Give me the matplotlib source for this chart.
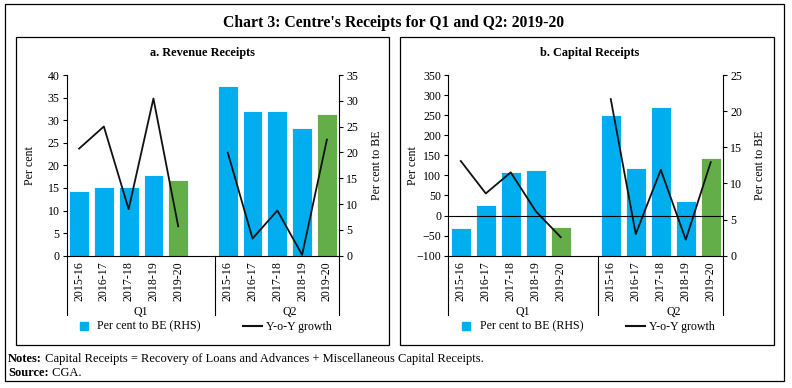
import matplotlib
matplotlib.use('Agg')
import matplotlib.pyplot as plt
import matplotlib.transforms as mtransforms
from matplotlib.patches import Rectangle
from matplotlib.lines import Line2D
import numpy as np

plt.rcParams['font.family'] = ['Liberation Serif', 'DejaVu Serif']

# データ
years = ['2015-16', '2016-17', '2017-18', '2018-19', '2019-20']
quarters = ['Q1', 'Q2']

# a. Revenue Receipts
rev_be_q1 = [12.5, 13.3, 13.3, 15.6, 14.7]
rev_be_q2 = [32.8, 28.1, 28.1, 24.7, 27.5]
rev_yoy_q1 = [23.7, 28.6, 10.3, 34.8, 6.5]
rev_yoy_q2 = [22.8, 3.8, 10.0, 0.2, 25.7]

# b. Capital Receipts
cap_be_q1 = [3.8, 7.0, 11.6, 11.8, 4.0]
cap_be_q2 = [19.4, 12.2, 20.6, 7.5, 13.5]
cap_yoy_q1 = [135.8, 55.0, 107.5, 10.8, -54.0]
cap_yoy_q2 = [290.0, -46.0, 114.0, -60.0, 133.0]

BLUE = '#00AEEF'
GREEN = '#64AE4A'
FS = 8.6


def draw_panel(ax, be_q1, be_q2, yoy_q1, yoy_q2, ylim_l, yticks_l, ylim_r, yticks_r,
               ylab_x_l, ylab_x_r):
    ax2 = ax.twinx()
    # 線を棒の上に表示
    ax.set_zorder(ax2.get_zorder() + 1)
    ax.patch.set_visible(False)

    pos_q1 = np.arange(len(years))
    pos_q2 = pos_q1 + len(years) + 1
    colors = [BLUE] * (len(years) - 1) + [GREEN]

    ax2.bar(pos_q1, be_q1, width=0.8, color=colors, edgecolor='white', linewidth=0.6)
    ax2.bar(pos_q2, be_q2, width=0.8, color=colors, edgecolor='white', linewidth=0.6)
    ax.plot(pos_q1, yoy_q1, color='#111111', linewidth=1.3)
    ax.plot(pos_q2, yoy_q2, color='#111111', linewidth=1.3)

    if ylim_l[0] < 0:
        ax.axhline(0, color='black', linewidth=0.8)

    ax.set_xlim(-0.5, 10.5)
    ax.set_ylim(*ylim_l)
    ax.set_yticks(yticks_l)
    ax2.set_ylim(*ylim_r)
    ax2.set_yticks(yticks_r)

    ax.set_xticks(list(pos_q1) + list(pos_q2))
    ax.set_xticklabels(years + years, rotation=90, fontsize=FS)
    ax.tick_params(axis='x', length=0, pad=4)
    ax.tick_params(axis='y', length=3, width=0.8, labelsize=FS, pad=2)
    ax2.tick_params(axis='y', length=3, width=0.8, labelsize=FS, pad=2)

    for s in ['top', 'right']:
        ax.spines[s].set_visible(False)
    for s in ['top', 'left', 'bottom']:
        ax2.spines[s].set_visible(False)
    ax.spines['left'].set_linewidth(0.8)
    ax.spines['bottom'].set_linewidth(0.8)
    ax2.spines['right'].set_linewidth(0.8)

    ax.set_ylabel('Per cent', fontsize=FS)
    ax.yaxis.set_label_coords(ylab_x_l, 0.5)
    ax2.set_ylabel('Per cent to BE', fontsize=FS, rotation=90)
    ax2.yaxis.set_label_coords(ylab_x_r, 0.5)

    # グループ区切り線とラベル
    trans = mtransforms.blended_transform_factory(ax.transData, ax.transAxes)
    for x in [-0.5, 5.5, 10.5]:
        ax.plot([x, x], [0, -0.33], transform=trans, color='black',
                linewidth=0.8, clip_on=False)
    ax.text(2.5, -0.31, quarters[0], transform=trans, ha='center', va='center', fontsize=FS)
    ax.text(8.5, -0.31, quarters[1], transform=trans, ha='center', va='center', fontsize=FS)

    handles = [Line2D([], [], marker='s', linestyle='none', markersize=6,
                      markerfacecolor=BLUE, markeredgecolor=BLUE),
               Line2D([], [], color='#111111', linewidth=1.5)]
    ax.legend(handles, ['Per cent to BE (RHS)', 'Y-o-Y growth'], loc='center',
              bbox_to_anchor=(0.5, -0.393), ncol=2, frameon=False, fontsize=FS,
              handlelength=1.6, handletextpad=0.3, columnspacing=3.6)
    return ax2


fig = plt.figure(figsize=(7.92, 3.88), dpi=100)

ax_a = fig.add_axes([0.0842, 0.341, 0.3442, 0.4657])
ax_b = fig.add_axes([0.566, 0.341, 0.3472, 0.4657])

draw_panel(ax_a, rev_be_q1, rev_be_q2, rev_yoy_q1, rev_yoy_q2,
           (0, 40), range(0, 41, 5), (0, 35), range(0, 36, 5), -0.113, 1.116)
draw_panel(ax_b, cap_be_q1, cap_be_q2, cap_yoy_q1, cap_yoy_q2,
           (-100, 350), range(-100, 351, 50), (0, 25), range(0, 26, 5), -0.107, 1.112)

# タイトル
fig.text(0.497, 0.941, "Chart 3: Centre's Receipts for Q1 and Q2: 2019-20",
         ha='center', va='center', fontsize=11.3, fontweight='bold')
fig.text(0.255, 0.864, 'a. Revenue Receipts', ha='center', va='center',
         fontsize=8.8, fontweight='bold')
fig.text(0.745, 0.864, 'b. Capital Receipts', ha='center', va='center',
         fontsize=8.8, fontweight='bold')

# 枠線
fig.add_artist(Rectangle((0.0063, 0.018), 0.9836, 0.9716, transform=fig.transFigure,
                         fill=False, edgecolor='black', linewidth=0.9))
fig.add_artist(Rectangle((0.0196, 0.1121), 0.4716, 0.7933, transform=fig.transFigure,
                         fill=False, edgecolor='black', linewidth=0.9))
fig.add_artist(Rectangle((0.505, 0.1121), 0.4718, 0.7933, transform=fig.transFigure,
                         fill=False, edgecolor='black', linewidth=0.9))

# 注記
t_notes = fig.text(0.010, 0.058, 'Notes:', fontsize=9, fontweight='bold', va='bottom')
ax_a.annotate(' Capital Receipts = Recovery of Loans and Advances + Miscellaneous Capital Receipts.',
              xy=(1, 0), xycoords=t_notes, va='bottom', ha='left', fontsize=9,
              annotation_clip=False)
t_src = fig.text(0.010, 0.024, 'Source:', fontsize=9, fontweight='bold', va='bottom')
ax_a.annotate(' CGA.', xy=(1, 0), xycoords=t_src, va='bottom', ha='left', fontsize=9,
              annotation_clip=False)

fig.savefig('out.png', dpi=100)
plt.close(fig)
